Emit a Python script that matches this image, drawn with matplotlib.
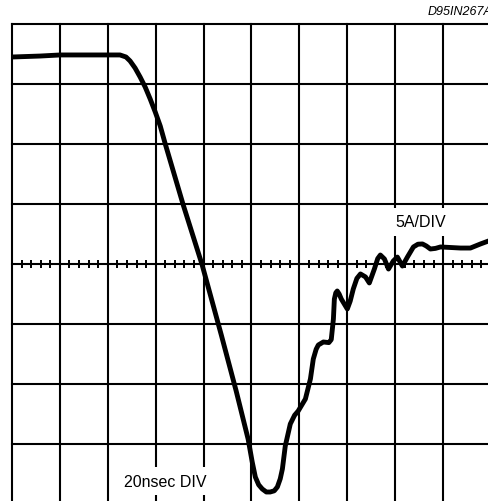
import numpy as np
import matplotlib
matplotlib.use("Agg")
import matplotlib.pyplot as plt

plt.rcParams["font.family"] = ["Liberation Sans", "DejaVu Sans"]

# scope trace: time in ns (20 ns/div), current in A (5 A/div)
t_ns = [0, 11.7, 20.1, 32.6, 45.1, 47.6, 49.3, 51.4, 53.5, 55.6, 57.7, 59.8,
        61.9, 64.0, 71.5, 79.4, 87.4, 93.6, 98.6, 100.3, 101.6, 103.0,
        104.5, 106.2, 107.8, 109.5, 110.8, 112.0, 112.9, 114.1, 116.2, 118.0,
        119.5, 122.5, 124.6, 125.8, 127.0, 127.9, 130.0, 132.3, 133.3, 134.2,
        134.6, 135.2, 135.8, 136.6, 137.5, 140.0, 141.2, 142.5, 144.0, 145.5,
        147.6, 149.2, 151.3, 152.7, 153.8, 155.5, 157.2, 159.2, 160.9, 163.0,
        165.1, 167.6, 169.5, 171.4, 173.0, 174.7, 176.8, 178.9, 187.3, 191.4,
        195.6, 199.0, 201.0]
i_amp = [17.25, 17.33, 17.42, 17.42, 17.42, 17.25, 16.92, 16.33, 15.58, 14.75,
         13.75, 12.67, 11.5, 10.0, 4.92, -0.08, -5.92, -10.58, -14.6,
         -16.5, -17.75, -18.4, -18.75, -19.0, -19.0, -18.9, -18.58, -17.9,
         -17.08, -15.17, -13.33, -12.6, -12.25, -11.25, -9.58, -7.92, -7.1,
         -6.75, -6.5, -6.55, -6.3, -4.58, -2.92, -2.4, -2.25, -2.5, -2.92,
         -3.75, -3.1, -2.08, -1.2, -0.83, -1.08, -1.58, -0.42, 0.45, 0.75,
         0.42, -0.42, 0.25, 0.58, -0.17, 0.58, 1.42, 1.65, 1.67, 1.5, 1.25,
         1.3, 1.42, 1.33, 1.33, 1.67, 1.92, 2.0]

time_div = 20   # ns per division
amp_div = 5     # A per division
n_xdiv = 10
n_ydiv = 8

fig = plt.figure(figsize=(4.88, 5.02), dpi=100)
W, H = 488, 502
ax = fig.add_axes([12 / W, -3 / H, 479 / W, 480 / H])
ax.set_xlim(0, n_xdiv * time_div)
ax.set_ylim(-n_ydiv / 2 * amp_div, n_ydiv / 2 * amp_div)
ax.axis("off")

# graticule
for k in range(n_xdiv + 1):
    ax.axvline(k * time_div, color="black", lw=1.5, zorder=1, clip_on=False)
for k in range(n_ydiv + 1):
    ax.axhline(-n_ydiv / 2 * amp_div + k * amp_div, color="black", lw=1.5,
               zorder=3, clip_on=False)
minor = np.arange(0, n_xdiv * time_div + 0.1, time_div / 5)
ax.plot(minor, np.zeros_like(minor), ls="none", marker="|", ms=6,
        mew=1.4, color="black", zorder=1, clip_on=False)

# labels with white boxes that blank the grid behind them
ax.text(64, -18.1, "20nsec DIV", fontsize=11.5, ha="center", va="center",
        zorder=2, bbox=dict(boxstyle="square,pad=0.4", fc="white", ec="none"))
ax.text(170.5, 3.5, "5A/DIV", fontsize=11.5, ha="center", va="center",
        zorder=2, bbox=dict(boxstyle="square,pad=0.4", fc="white", ec="none"))

ax.plot(t_ns, i_amp, color="black", lw=3.5, solid_joinstyle="round",
        solid_capstyle="round", zorder=5)

fig.text(428 / W, 1 - 12 / H, "D95IN267A", fontsize=9, style="italic",
         ha="left", va="center")

fig.savefig("out.png", dpi=100)
